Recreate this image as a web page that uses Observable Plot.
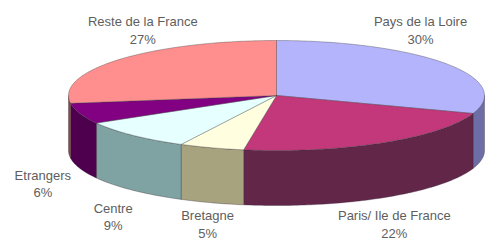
<!DOCTYPE html>
<html>
<head>
<meta charset="utf-8">
<script src="https://cdn.jsdelivr.net/npm/d3@7"></script>
<script src="https://cdn.jsdelivr.net/npm/@observablehq/plot@0.6"></script>
<style>
  html, body { margin: 0; padding: 0; background: #fff; }
  #chart svg { display: block; }
</style>
</head>
<body>
<div id="chart"></div>
<script>
// ---- Data ----
const categories = ["Pays de la Loire", "Paris/ Ile de France", "Bretagne", "Centre", "Etrangers", "Reste de la France"];
const values = [30, 22, 5, 9, 6, 27];
const labels = ["30%", "22%", "5%", "9%", "6%", "27%"];
const topColors = ["#b4b4fc", "#c2387a", "#ffffe0", "#e6ffff", "#820082", "#ff8e8e"];
const sideColors = ["#6e6ea6", "#622649", "#a8a37f", "#7fa2a2", "#4e004f", "#8a4848"];

// ---- Geometry derived from the values ----
const depth = 1;          // side height, in y units (ellipse y-radius = 1)
const total = d3.sum(values);
const rad = Math.PI / 180;
let acc = 0;
const slices = categories.map((name, i) => {
  const a0 = acc / total * 360;
  acc += values[i];
  const a1 = acc / total * 360;
  return {name, i, a0, a1, mid: (a0 + a1) / 2};
});
const pt = (deg, dy = 0) => ({x: Math.sin(deg * rad), y: -Math.cos(deg * rad) + dy});
const arc = (a0, a1, dy = 0) => {
  const n = Math.max(2, Math.ceil(Math.abs(a1 - a0)));
  return d3.range(n + 1).map(k => pt(a0 + (a1 - a0) * k / n, dy));
};

const tops = slices.flatMap(s =>
  [{x: 0, y: 0}, ...arc(s.a0, s.a1), {x: 0, y: 0}].map(p => ({...p, key: s.name, fill: topColors[s.i]}))
);
const sides = slices.flatMap(s => {
  const b0 = Math.max(s.a0, 90), b1 = Math.min(s.a1, 270);
  if (b1 <= b0) return [];
  const ring = [...arc(b0, b1, 0), ...arc(b1, b0, depth)];
  ring.push(ring[0]);
  return ring.map(p => ({...p, key: s.name, fill: sideColors[s.i]}));
});

// Labels: back slices above the pie, front slices below its side
const textData = slices.map(s => {
  const p = pt(s.mid);
  const front = p.y > 0;
  return {
    x: front ? p.x * (1 + 0.2 * Math.abs(p.x)) : p.x * 0.85,
    y: front ? Math.min(2.33, depth + p.y * 1.5 + 0.1) : -1.2,
    text: s.name + "\n" + labels[s.i]
  };
});

const chart = Plot.plot({
  width: 487,
  height: 244,
  margin: 0,
  style: {background: "#fff"},
  x: {domain: [-1, 1], range: [68, 484], axis: null},
  y: {domain: [-1, 1], range: [40, 150], axis: null},
  color: {type: "identity"},
  marks: [
    Plot.line(sides, {x: "x", y: "y", z: "key", fill: "fill", stroke: "#3a2a3a", strokeWidth: 0.6, strokeOpacity: 0.6, curve: "linear"}),
    Plot.line(tops, {x: "x", y: "y", z: "key", fill: "fill", stroke: "#3a3a3a", strokeWidth: 0.6, strokeOpacity: 0.6, curve: "linear"}),
    Plot.text(textData, {
      x: "x", y: "y", text: "text",
      fontSize: 13, lineHeight: 1.35, fill: "#5e5e5e",
      fontFamily: "Liberation Sans, Arial, sans-serif",
      textAnchor: "middle", lineAnchor: "middle"
    })
  ]
});
document.getElementById("chart").appendChild(chart);
</script>
</body>
</html>
